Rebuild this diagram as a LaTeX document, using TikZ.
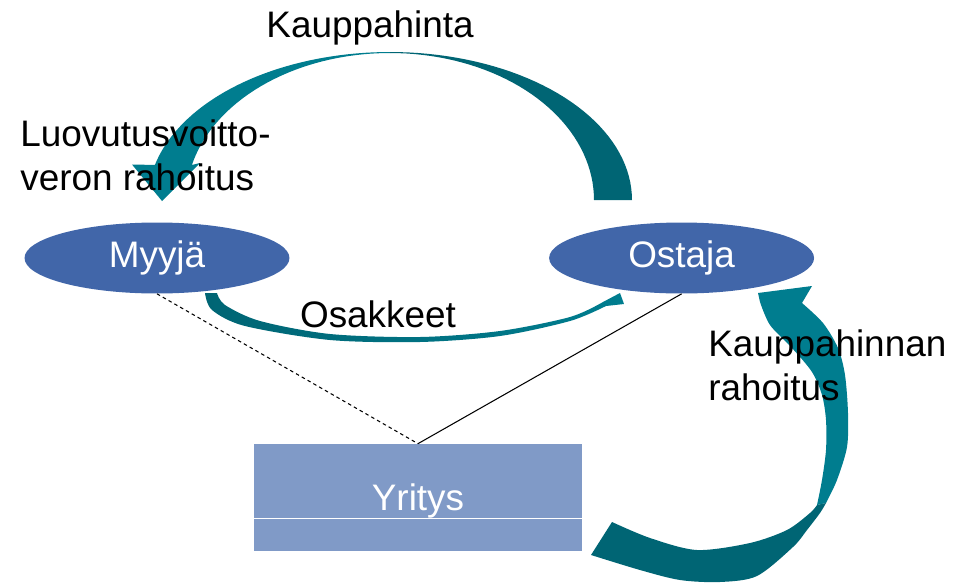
\documentclass[tikz,border=0pt]{standalone}
\usepackage{fontspec}
\setmainfont{Liberation Sans}
\usetikzlibrary{shapes.geometric, positioning}

\definecolor{ovalblue}{RGB}{65,102,169}
\definecolor{boxblue}{RGB}{128,154,199}
\definecolor{teallight}{RGB}{0,125,143}
\definecolor{tealdark}{RGB}{0,101,116}

\begin{document}
\begin{tikzpicture}[x=0.02cm, y=-0.02cm,
  party/.style={ellipse, fill=ovalblue, text=white, minimum width=5.3cm, minimum height=1.42cm, inner sep=0pt, font=\fontsize{21}{25}\selectfont},
  firm/.style={rectangle, fill=boxblue, text=white, text depth=0pt, minimum width=6.56cm, minimum height=2.14cm, inner sep=0pt, font=\fontsize{21}{25}\selectfont},
  lbl/.style={inner sep=0pt, align=left, font=\fontsize{21}{25}\selectfont},
  link/.style={line width=0.6pt}
]
\useasboundingbox (0,0) rectangle (971,582);

\fill[tealdark] plot[domain=0:90, samples=40] ({390+242*cos(\x)}, {200-148*sin(\x)})
  -- plot[domain=90:0, samples=40] ({390+204*cos(\x)}, {200-147*sin(\x)}) -- cycle;
\fill[teallight] plot[domain=90:166.3, samples=40] ({390+242*cos(\x)}, {200-148*sin(\x)})
  -- (132,164.5) -- (162,201) -- (200,163)
  -- plot[domain=166.2:90, samples=40] ({390+204*cos(\x)}, {200-147*sin(\x)}) -- cycle;

\fill[teallight] (758,293) -- (812,286)
  -- plot[smooth] coordinates {(802,303) (823,323) (838,348) (845,375) (848,413) (847,447) (837,480) (826,503)}
  -- plot[smooth] coordinates {(817,505) (822,480) (826,450) (826,420) (822,395) (812,372) (792,348) (770,325) (760,302)}
  -- cycle;
\fill[tealdark] plot[smooth] coordinates {(826,503) (820,513) (807,530) (793,547) (757,576) (720,582) (680,580) (640,570) (591,555)}
  -- plot[smooth] coordinates {(612,522) (650,538) (697,550) (750,543) (787,530) (810,513) (817,505)}
  -- cycle;

\shade[left color=tealdark, middle color=teallight!40, right color=teallight]
  plot[smooth] coordinates {(205,293) (212,310) (245,326) (330,340) (420,342) (500,336) (570,321) (606,306)}
  -- (624,304) -- (620,293) -- (603,302)
  -- plot[smooth] coordinates {(603,302) (570,317) (500,331) (420,337) (330,334) (260,321) (225,305) (217,293)}
  -- cycle;

\node[party] (myyja) at (157,258) {Myyjä};
\node[party, right=5.18cm of myyja] (ostaja) {Ostaja};
\node[firm] (yritys) at (418,497.5) {Yritys};
\draw[white, line width=0.8pt] ([yshift=0.66cm]yritys.south west) -- ([yshift=0.66cm]yritys.south east);

\draw[link, dash pattern=on 2pt off 1.8pt] (myyja.south) -- (yritys.north);
\draw[link] (ostaja.south) -- (yritys.north);

\node[lbl, anchor=base] (kauppahinta) at (370,37) {Kauppahinta};
\node[lbl, anchor=base west] (luovutus) at (20,190) {Luovutusvoitto-\\veron rahoitus};
\node[lbl, anchor=base] (osakkeet) at (378,327) {Osakkeet};
\node[lbl, anchor=base west] (rahoitus) at (708,400) {Kauppahinnan\\rahoitus};
\end{tikzpicture}
\end{document}
